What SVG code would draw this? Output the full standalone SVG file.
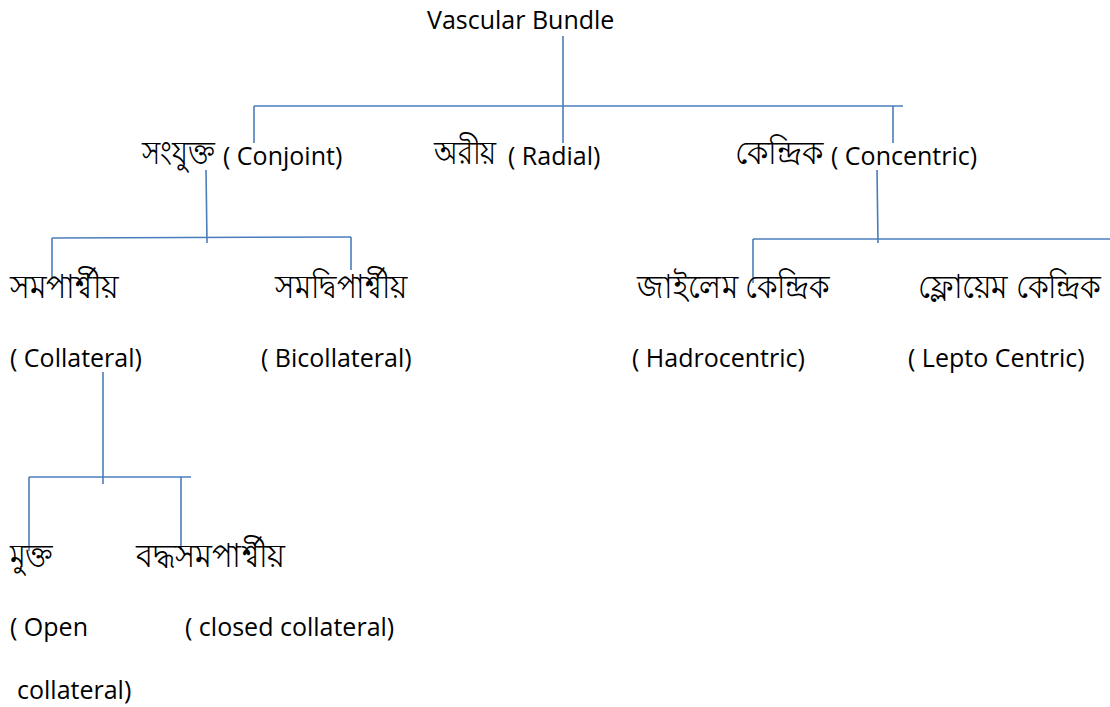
<svg xmlns="http://www.w3.org/2000/svg" width="1110" height="707" viewBox="0 0 1110 707">
<style>
.t{font-family:"Open Sans","Noto Sans","DejaVu Sans",sans-serif;font-size:25px;fill:#000}
.b{font-family:"Noto Sans","Open Sans","DejaVu Sans",sans-serif;font-size:33px;fill:#000}
.c line{stroke:#4a7ebb;stroke-width:1.6;fill:none}
</style>
<rect x="0" y="0" width="1110" height="707" fill="#fff"/>
<g id="connectors" class="c">
<line x1="563" y1="36" x2="563" y2="143"/>
<line x1="254" y1="106" x2="903" y2="106"/>
<line x1="254" y1="106" x2="254" y2="143"/>
<line x1="893" y1="106" x2="893" y2="143"/>
<line x1="206" y1="170" x2="207" y2="243"/>
<line x1="52" y1="238" x2="351" y2="237"/>
<line x1="52" y1="238" x2="52" y2="278"/>
<line x1="351" y1="237" x2="351" y2="270"/>
<line x1="877" y1="170" x2="878" y2="243"/>
<line x1="753" y1="239" x2="1110" y2="239"/>
<line x1="753" y1="239" x2="753" y2="283"/>
<line x1="103" y1="372" x2="103" y2="484"/>
<line x1="29" y1="477" x2="191" y2="477"/>
<line x1="29" y1="477" x2="29" y2="551"/>
<line x1="181" y1="477" x2="181" y2="550"/>
</g>
<g id="vascular-bundle"><text class="t" x="427" y="29" font-size="24">Vascular Bundle</text></g>
<g id="conjoint"><text class="b" x="142" y="164" textLength="73" lengthAdjust="spacingAndGlyphs">সংযুক্ত</text><text class="t" x="223" y="165">( Conjoint)</text></g>
<g id="radial"><text class="b" x="434" y="164" textLength="62" lengthAdjust="spacingAndGlyphs">অরীয়</text><text class="t" x="508" y="165">( Radial)</text></g>
<g id="concentric"><text class="b" x="735" y="164" textLength="88" lengthAdjust="spacingAndGlyphs">কেন্দ্রিক</text><text class="t" x="831" y="165">( Concentric)</text></g>
<g id="collateral"><text class="b" x="10" y="298" textLength="108" lengthAdjust="spacingAndGlyphs">সমপার্শ্বীয়</text><text class="t" x="10" y="367">( Collateral)</text></g>
<g id="bicollateral"><text class="b" x="275" y="298" textLength="132" lengthAdjust="spacingAndGlyphs">সমদ্বিপার্শ্বীয়</text><text class="t" x="261" y="367">( Bicollateral)</text></g>
<g id="hadrocentric"><text class="b" x="637" y="298" textLength="193" lengthAdjust="spacingAndGlyphs">জাইলেম কেন্দ্রিক</text><text class="t" x="632" y="367">( Hadrocentric)</text></g>
<g id="leptocentric"><text class="b" transform="translate(918 298) scale(0.75 1)" x="0" y="0" font-size="32" textLength="243" lengthAdjust="spacingAndGlyphs">ফ্লোয়েম কেন্দ্রিক</text><text class="t" x="908" y="367">( Lepto Centric)</text></g>
<g id="open-collateral"><text class="b" x="10" y="567" textLength="43" lengthAdjust="spacingAndGlyphs">মুক্ত</text><text class="t" x="10" y="636">( Open</text><text class="t" x="17" y="699">collateral)</text></g>
<g id="closed-collateral"><text class="b" x="136" y="567" textLength="149" lengthAdjust="spacingAndGlyphs">বদ্ধসমপার্শ্বীয়</text><text class="t" x="185" y="636">( closed collateral)</text></g>
</svg>
